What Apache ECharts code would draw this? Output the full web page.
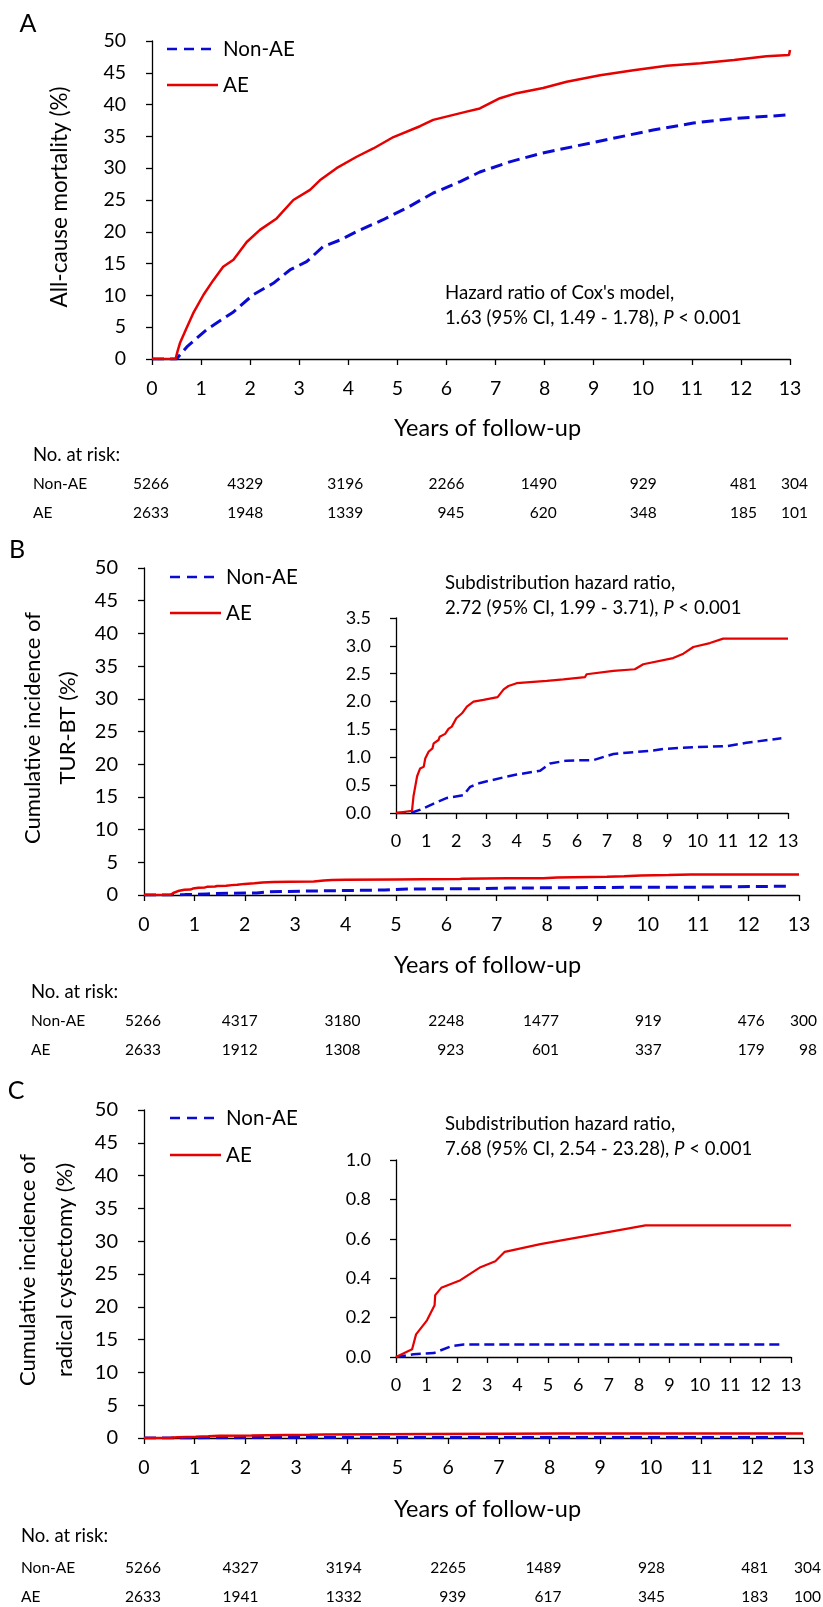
<!DOCTYPE html>
<html><head><meta charset="utf-8">
<script src="https://cdn.jsdelivr.net/npm/echarts@6/dist/echarts.min.js"></script>
<style>html,body{margin:0;padding:0;background:#fff}#c{width:823px;height:1607px}</style>
</head><body><div id="c"></div>
<script>
// ---------------- DATA ----------------
const xTicks = [0,1,2,3,4,5,6,7,8,9,10,11,12,13];

// Panel A: all-cause mortality (%)
const aNonAE = [[0,0],[0.5,0],[0.71,1.9],[1.11,4.6],[1.66,7.4],[2.06,10.1],[2.47,11.9],[2.81,14.0],[3.15,15.3],[3.49,17.7],[3.83,18.7],[4.24,20.3],[4.71,21.9],[5.25,24.0],[5.73,26.1],[6.28,27.9],[6.68,29.4],[7.29,31.0],[7.91,32.3],[8.59,33.4],[9.4,34.7],[10.21,36.0],[11.03,37.1],[11.84,37.8],[13,38.4]];
const aAE = [[0,0],[0.48,0],[0.52,1.2],[0.57,2.5],[0.7,4.8],[0.84,7.2],[1.05,10.1],[1.25,12.4],[1.45,14.5],[1.66,15.6],[1.93,18.4],[2.2,20.3],[2.54,22.1],[2.88,25.0],[3.22,26.6],[3.42,28.1],[3.76,30.0],[4.17,31.8],[4.51,33.1],[4.92,34.9],[5.46,36.6],[5.73,37.6],[6.41,38.9],[6.68,39.4],[7.09,41.0],[7.43,41.8],[7.97,42.6],[8.45,43.6],[9.13,44.6],[9.81,45.4],[10.49,46.1],[11.18,46.5],[11.86,47.0],[12.52,47.6],[12.98,47.8],[13,48.6]];

// Panel B: cumulative incidence of TUR-BT (%)
const bNonAE = [[0,0],[0.53,0.01],[0.81,0.06],[1.25,0.17],[1.69,0.27],[2.24,0.32],[2.46,0.47],[2.79,0.54],[3.57,0.64],[4.0,0.69],[4.78,0.76],[5.11,0.89],[5.66,0.94],[6.55,0.95],[7.21,1.06],[7.87,1.09],[8.53,1.12],[8.86,1.15],[9.86,1.18],[10.96,1.20],[11.62,1.26],[12.78,1.34]];
const bAE = [[0,0],[0.53,0.04],[0.58,0.3],[0.70,0.66],[0.80,0.80],[0.92,0.83],[0.97,0.98],[1.08,1.10],[1.21,1.16],[1.25,1.25],[1.41,1.31],[1.45,1.37],[1.63,1.42],[1.74,1.51],[1.85,1.55],[2.0,1.70],[2.19,1.79],[2.35,1.91],[2.57,2.0],[2.9,2.03],[3.37,2.08],[3.57,2.22],[3.73,2.28],[4.0,2.33],[5.0,2.37],[5.55,2.40],[6.27,2.44],[6.32,2.49],[7.21,2.55],[7.92,2.58],[8.2,2.67],[9.19,2.78],[9.53,2.86],[9.86,2.98],[10.41,3.05],[10.85,3.13],[13,3.13]];

// Panel C: cumulative incidence of radical cystectomy (%)
const cNonAE = [[0,0],[0.58,0.014],[1.24,0.02],[1.84,0.056],[2.23,0.064],[12.76,0.064]];
const cAE = [[0,0],[0.53,0.039],[0.66,0.115],[1.02,0.186],[1.27,0.263],[1.29,0.314],[1.49,0.351],[2.12,0.39],[2.78,0.456],[3.27,0.486],[3.58,0.534],[4.75,0.573],[5.63,0.597],[7.16,0.639],[8.21,0.668],[13,0.668]];

// Numbers at risk
const riskYears = [0,2,4,6,8,10,12,13];
const aRiskNonAE = [5266,4329,3196,2266,1490,929,481,304];
const aRiskAE    = [2633,1948,1339,945,620,348,185,101];
const bRiskNonAE = [5266,4317,3180,2248,1477,919,476,300];
const bRiskAE    = [2633,1912,1308,923,601,337,179,98];
const cRiskNonAE = [5266,4327,3194,2265,1489,928,481,304];
const cRiskAE    = [2633,1941,1332,939,617,345,183,100];

const panelLetters = ['A','B','C'];
const yTitles = ['All-cause mortality (%)','Cumulative incidence of\nTUR-BT (%)','Cumulative incidence of\nradical cystectomy (%)'];
const xTitle = 'Years of follow-up';
const seriesNames = ['Non-AE','AE'];
const hrTitles = ["Hazard ratio of Cox's model,","Subdistribution hazard ratio,","Subdistribution hazard ratio,"];
const hrValues = [['1.63 (95% CI, 1.49 - 1.78), ',' < 0.001'],['2.72 (95% CI, 1.99 - 3.71), ',' < 0.001'],['7.68 (95% CI, 2.54 - 23.28), ',' < 0.001']];

// ---------------- STYLE ----------------
const FONT = 'Lato, "Open Sans", sans-serif';
const RED = '#e60000', BLUE = '#0a0ad2', INK = '#000';

const chart = echarts.init(document.getElementById('c'), null, {renderer:'canvas', width:823, height:1607});

function xAx(grid, max, fs, margin){
  return {type:'value', gridIndex:grid, min:0, max:max, interval:1,
    axisLine:{onZero:false, lineStyle:{color:INK, width:1.3}},
    axisTick:{show:true, inside:false, length:6, lineStyle:{color:INK, width:1.3}},
    splitLine:{show:false},
    axisLabel:{color:INK, fontFamily:FONT, fontSize:fs, margin:margin}};
}
function yAx(grid, max, interval, fs, margin, dec){
  return {type:'value', gridIndex:grid, min:0, max:max, interval:interval,
    axisLine:{show:true, onZero:false, lineStyle:{color:INK, width:1.3}},
    axisTick:{show:true, inside:false, length:6, lineStyle:{color:INK, width:1.3}},
    splitLine:{show:false},
    axisLabel:{color:INK, fontFamily:FONT, fontSize:fs, margin:margin,
      formatter: dec ? (v => v.toFixed(dec)) : (v => String(v))}};
}
function line(name, data, idx, color, dashed, w){
  return {name:name, type:'line', xAxisIndex:idx, yAxisIndex:idx, data:data,
    symbol:'none', smooth:false, animation:false,
    lineStyle:{color:color, width:w, type: dashed ? dashed : 'solid', cap:'butt'}};
}

const grids = [
  {left:152, top:41, width:638, height:318},
  {left:144, top:568, width:655, height:327},
  {left:396, top:618, width:392, height:195},
  {left:144, top:1110, width:659, height:328},
  {left:396, top:1160, width:395, height:197}
];

chart.setOption({
  animation:false,
  backgroundColor:'#fff',
  grid: grids,
  xAxis:[xAx(0,13,19.5,20), xAx(1,13,19.5,20), xAx(2,13,18,19), xAx(3,13,19.5,20), xAx(4,13,18,19)],
  yAxis:[yAx(0,50,5,19.5,26), yAx(1,50,5,20,26), yAx(2,3.5,0.5,18,25,1), yAx(3,50,5,20,26), yAx(4,1.0,0.2,18,25,1)],
  series:[
    line(seriesNames[0], aNonAE, 0, BLUE, [12,6], 3),
    line(seriesNames[1], aAE, 0, RED, null, 2.5),
    line(seriesNames[0], bNonAE, 1, BLUE, [12,6], 3),
    line(seriesNames[1], bAE, 1, RED, null, 2.5),
    line(seriesNames[0], bNonAE, 2, BLUE, [10,5], 2.5),
    line(seriesNames[1], bAE, 2, RED, null, 2.2),
    line(seriesNames[0], cNonAE, 3, BLUE, [12,6], 3),
    line(seriesNames[1], cAE, 3, RED, null, 2.5),
    line(seriesNames[0], cNonAE, 4, BLUE, [10,5], 2.5),
    line(seriesNames[1], cAE, 4, RED, null, 2.2)
  ]
});

// ---------------- ANNOTATIONS ----------------
const g = [];
function txt(x, y, s, fs, opts){
  g.push(Object.assign({type:'text', x:x, y:y, silent:true,
    style:Object.assign({text:s, fill:INK, font: fs+'px '+FONT, align:'left', verticalAlign:'middle'}, (opts&&opts.style)||{})},
    opts && opts.rotation!==undefined ? {rotation:opts.rotation} : {}));
}
// panel letters
const letterPos = [[28,24],[17,550],[16,1091]];
panelLetters.forEach((L,i)=>txt(letterPos[i][0], letterPos[i][1], L, 25, {style:{align:'center'}}));

// y-axis titles (rotated)
const yTitlePos = [[60,197,22.5,26],[50,728,22,35],[46,1270,22,37]];
yTitles.forEach((t,i)=>{
  g.push({type:'text', x:yTitlePos[i][0], y:yTitlePos[i][1], rotation:Math.PI/2, silent:true,
    style:{text:t, fill:INK, font:yTitlePos[i][2]+'px '+FONT, align:'center', verticalAlign:'middle', lineHeight:yTitlePos[i][3]}});
});

// x-axis titles
const xTitleY = [428, 965, 1509];
xTitleY.forEach(y=>txt(394, y, xTitle, 23.5));

// legends
const legPos = [[167,49,85],[170,577,613],[170,1118,1155]];
legPos.forEach(p=>{
  g.push({type:'line', silent:true, shape:{x1:p[0], y1:p[1], x2:p[0]+51, y2:p[1]},
    style:{stroke:BLUE, lineWidth:2.6, lineDash:[10,7]}});
  g.push({type:'line', silent:true, shape:{x1:p[0], y1:p[2], x2:p[0]+51, y2:p[2]},
    style:{stroke:RED, lineWidth:2.6}});
  txt(p[0]+56, p[1], seriesNames[0], 20.5);
  txt(p[0]+56, p[2], seriesNames[1], 20.5);
});

// hazard ratio text
const hrPos = [[445,293],[445,583],[445,1124]];
hrPos.forEach((p,i)=>{
  txt(p[0], p[1], hrTitles[i], 18.6);
  g.push({type:'text', x:p[0], y:p[1]+25, silent:true,
    style:{text:'{n|'+hrValues[i][0]+'}{i|P}{n|'+hrValues[i][1]+'}', verticalAlign:'middle', align:'left',
      rich:{n:{fill:INK, fontFamily:FONT, fontSize:18.6}, i:{fill:INK, fontFamily:FONT, fontSize:18.6, fontStyle:'italic'}}}});
});

// numbers at risk
const riskSets = [
  {axis:0, nonAE:aRiskNonAE, ae:aRiskAE, left:33, rows:[455,484,513]},
  {axis:1, nonAE:bRiskNonAE, ae:bRiskAE, left:31, rows:[992,1021,1050]},
  {axis:3, nonAE:cRiskNonAE, ae:cRiskAE, left:21, rows:[1536,1568,1597]}
];
const colShift = [17,13,15,18,12,14,16,18];
riskSets.forEach(r=>{
  txt(r.left, r.rows[0], 'No. at risk:', 18.5);
  txt(r.left, r.rows[1], seriesNames[0], 15.5);
  txt(r.left, r.rows[2], seriesNames[1], 15.5);
  riskYears.forEach((yr,k)=>{
    const px = chart.convertToPixel({xAxisIndex:r.axis}, yr) + colShift[k];
    txt(px, r.rows[1], String(r.nonAE[k]), 15.5, {style:{align:'right'}});
    txt(px, r.rows[2], String(r.ae[k]), 15.5, {style:{align:'right'}});
  });
});

chart.setOption({graphic:{elements:g}});
</script></body></html>
